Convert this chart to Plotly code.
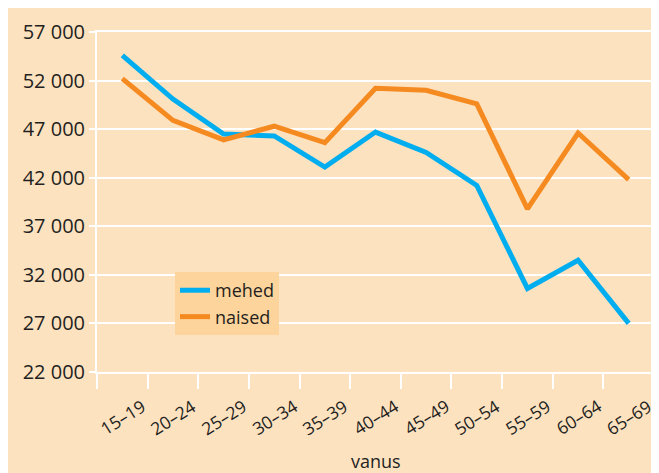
import plotly.graph_objects as go

categories = ["15–19", "20–24", "25–29", "30–34", "35–39", "40–44",
              "45–49", "50–54", "55–59", "60–64", "65–69"]
mehed = [54600, 50100, 46500, 46300, 43100, 46700, 44600, 41200, 30600, 33500, 27000]
naised = [52200, 47900, 45900, 47300, 45600, 51200, 51000, 49600, 38800, 46600, 41800]
x_title = "vanus"

BG = "#FDE2C0"
TXT = "#231F20"
BLUE = "#00AEEF"
ORANGE = "#F58A20"
FONT = "Open Sans"

fig = go.Figure()
fig.add_trace(go.Scatter(x=categories, y=mehed, mode="lines", name="mehed",
                         line=dict(color=BLUE, width=5)))
fig.add_trace(go.Scatter(x=categories, y=naised, mode="lines", name="naised",
                         line=dict(color=ORANGE, width=5)))

# rotated category labels centred under each category
for c in categories:
    fig.add_annotation(x=c, xref="x", y=-0.131, yref="paper",
                       text=c, showarrow=False, textangle=-32,
                       xanchor="center", yanchor="middle",
                       font=dict(family=FONT, size=17.5, color=TXT))
fig.add_annotation(x=0.5, xref="paper", y=-0.262, yref="paper",
                   text=x_title, showarrow=False,
                   xanchor="center", yanchor="middle",
                   font=dict(family=FONT, size=18, color=TXT))

fig.update_layout(
    width=651, height=465,
    margin=dict(l=89, r=5, t=24, b=101, autoexpand=False),
    paper_bgcolor=BG,
    plot_bgcolor=BG,
    separators=", ",
    font=dict(family=FONT, color=TXT, size=18),
    showlegend=True,
    legend=dict(x=0.14, y=0.294, xanchor="left", yanchor="top",
                bgcolor="#FDD49C", font=dict(size=18, color=TXT),
                tracegroupgap=0),
)
fig.update_xaxes(
    type="category", range=[-0.5, len(categories) - 0.5],
    tickson="boundaries", ticks="outside", ticklen=15,
    tickwidth=2, tickcolor="white", showgrid=False, showticklabels=False,
    showline=True, linecolor="white", linewidth=2, mirror=True,
    automargin=False,
)
fig.update_yaxes(
    range=[22000, 57000], tick0=22000, dtick=5000, tickformat=",d",
    showgrid=True, gridcolor="white", gridwidth=2,
    ticks="outside", ticklen=6, tickwidth=2, tickcolor="white",
    showline=True, linecolor="white", linewidth=2, mirror=True,
    zeroline=False, tickfont=dict(size=20, color=TXT), automargin=False,
)

fig.write_html("out.html")
